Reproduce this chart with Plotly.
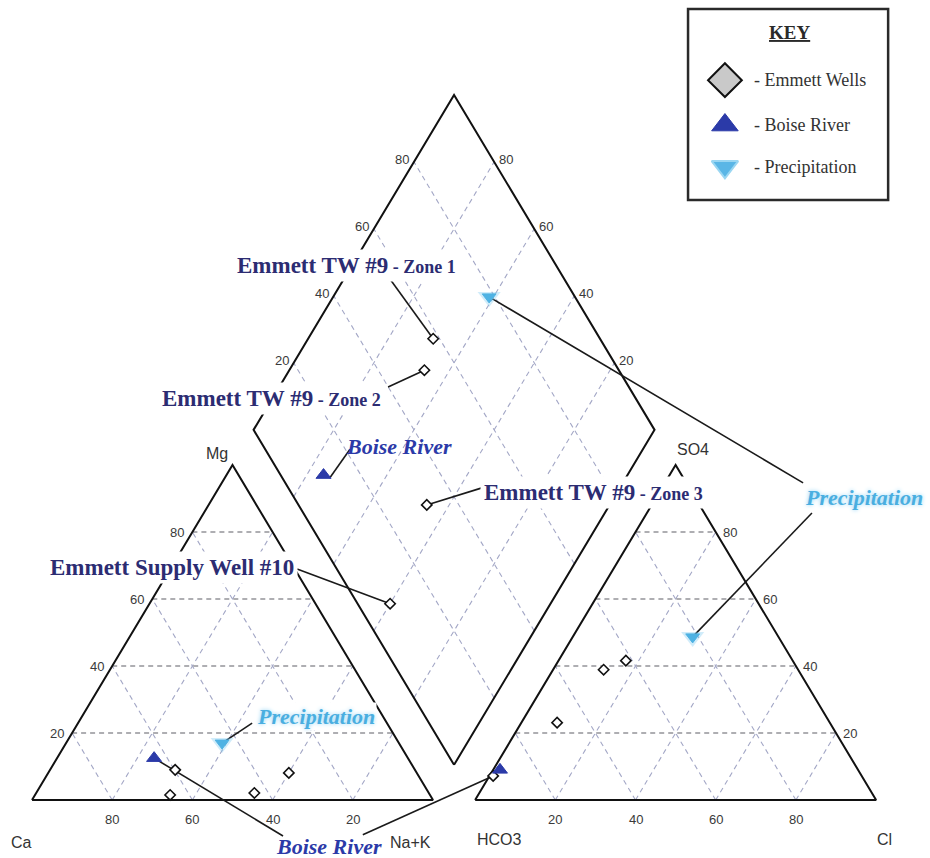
import math
import plotly.graph_objects as go

# ---- water chemistry (percent of meq/L) ----
well_names = ["Emmett TW #9 - Zone 1", "Emmett TW #9 - Zone 2",
              "Emmett TW #9 - Zone 3", "Emmett Supply Well #10"]
well_ca = [59.8, 64.8, 43.5, 31.9]
well_mg = [9.0, 1.5, 2.1, 8.1]
well_na = [31.2, 33.7, 54.4, 60.0]
well_hco3 = [41.6, 48.5, 68.0, 91.9]
well_so4 = [41.6, 38.9, 23.1, 7.2]
well_cl = [16.8, 12.6, 8.9, 0.9]

river_ca, river_mg, river_na = [63.3], [12.5], [24.2]
river_hco3, river_so4, river_cl = [89.3], [9.0], [1.7]

precip_ca, precip_mg, precip_na = [44.1], [17.0], [38.9]
precip_hco3, precip_so4, precip_cl = [21.4], [48.7], [29.9]

grid_ticks = [20, 40, 60, 80]

# ---- Piper geometry ----
GAP = 10.5
R3 = math.sqrt(3) / 2
OFF = 100 + GAP                       # left corner of the anion triangle
BX, BY = 100 + GAP / 2, GAP * R3      # bottom vertex of the diamond


def cation_xy(mg, na):
    return [n + m / 2 for m, n in zip(mg, na)], [m * R3 for m in mg]


def anion_xy(so4, cl):
    return [OFF + c + s / 2 for s, c in zip(so4, cl)], [s * R3 for s in so4]


def diamond_xy(ca, mg, so4, cl):
    xs, ys = [], []
    for a, m, s, c in zip(ca, mg, so4, cl):
        al, be = (a + m) / 100, (s + c) / 100
        xs.append(BX - 50 * al + 50 * be)
        ys.append(BY + 100 * R3 * (al + be))
    return xs, ys


fig = go.Figure()

DIAG = "#a3a7c6"
HORZ = "#5e5e66"


def seg(p, q, color, width=1.2, dash=None):
    fig.add_trace(go.Scatter(x=[p[0], q[0]], y=[p[1], q[1]], mode="lines",
                             line=dict(color=color, width=width, dash=dash),
                             hoverinfo="skip", showlegend=False))


# grid: cation triangle
for k in grid_ticks:
    seg((k / 2, k * R3), (100 - k / 2, k * R3), HORZ, 1.1, "5px,4px")
    seg((k, 0), (k + (100 - k) / 2, (100 - k) * R3), DIAG, 1.1, "5px,4px")
    seg((100 - k, 0), ((100 - k) / 2, (100 - k) * R3), DIAG, 1.1, "5px,4px")
# grid: anion triangle
for k in grid_ticks:
    seg((OFF + k / 2, k * R3), (OFF + 100 - k / 2, k * R3), HORZ, 1.1, "5px,4px")
    seg((OFF + k, 0), (OFF + k + (100 - k) / 2, (100 - k) * R3), DIAG, 1.1, "5px,4px")
    seg((OFF + 100 - k, 0), (OFF + (100 - k) / 2, (100 - k) * R3), DIAG, 1.1, "5px,4px")
# grid: diamond
for k in grid_ticks:
    f = k / 100
    p = (BX - 50 * f, BY + 100 * R3 * f)
    seg(p, (p[0] + 50, p[1] + 100 * R3), DIAG, 1.1, "5px,4px")
    p = (BX + 50 * f, BY + 100 * R3 * f)
    seg(p, (p[0] - 50, p[1] + 100 * R3), DIAG, 1.1, "5px,4px")

# outlines
OUT = dict(color="#111111", width=2)
for xs, ys in [
    ([0, 100, 50, 0], [0, 0, 100 * R3, 0]),
    ([OFF, OFF + 100, OFF + 50, OFF], [0, 0, 100 * R3, 0]),
    ([BX, BX - 50, BX, BX + 50, BX],
     [BY, BY + 100 * R3, BY + 200 * R3, BY + 100 * R3, BY]),
]:
    fig.add_trace(go.Scatter(x=xs, y=ys, mode="lines", line=OUT,
                             hoverinfo="skip", showlegend=False))

# sample positions
wc = cation_xy(well_mg, well_na)
wa = anion_xy(well_so4, well_cl)
wd = diamond_xy(well_ca, well_mg, well_so4, well_cl)
rc = cation_xy(river_mg, river_na)
ra = anion_xy(river_so4, river_cl)
rd = diamond_xy(river_ca, river_mg, river_so4, river_cl)
pc = cation_xy(precip_mg, precip_na)
pa = anion_xy(precip_so4, precip_cl)
pd = diamond_xy(precip_ca, precip_mg, precip_so4, precip_cl)

# leader lines from labels to samples
LEAD = "#1a1a1a"
leaders = [
    ((88.0, 136.5), (wd[0][0], wd[1][0])),
    ((88.8, 106.8), (wd[0][1], wd[1][1])),
    ((112.2, 80.7), (wd[0][2], wd[1][2])),
    ((66.1, 59.7), (wd[0][3], wd[1][3])),
    ((79.3, 90.7), (rd[0][0] + 1.5, rd[1][0] - 0.8)),
    ((62.6, -9.3), (rc[0][0], rc[1][0])),
    ((82.5, -9.0), (wa[0][3], wa[1][3])),
    ((54.9, 19.9), (pc[0][0], pc[1][0])),
    ((192.3, 82.0), (pd[0][0], pd[1][0])),
    ((194.5, 74.2), (pa[0][0], pa[1][0])),
]
for p, q in leaders:
    seg(p, q, LEAD, 1.6)

WELL_MK = dict(symbol="diamond", size=8, color="white",
               line=dict(color="#111111", width=1.6))
RIVER_MK = dict(symbol="triangle-up", size=13, color="#2b3aa8",
                line=dict(color="#2b3aa8", width=1))
PRECIP_GLOW = dict(symbol="triangle-down", size=20, color="rgba(120,200,240,0.35)",
                   line=dict(width=0))
PRECIP_MK = dict(symbol="triangle-down", size=12, color="#4fb2e3",
                 line=dict(color="#4fb2e3", width=1))

for pts in (wc, wa, wd):
    fig.add_trace(go.Scatter(x=pts[0], y=pts[1], mode="markers", marker=WELL_MK,
                             text=well_names, showlegend=False))
for pts in (rc, ra, rd):
    fig.add_trace(go.Scatter(x=pts[0], y=pts[1], mode="markers", marker=RIVER_MK,
                             name="Boise River", showlegend=False))
for pts in (pc, pa, pd):
    fig.add_trace(go.Scatter(x=pts[0], y=pts[1], mode="markers", marker=PRECIP_GLOW,
                             hoverinfo="skip", showlegend=False))
    fig.add_trace(go.Scatter(x=pts[0], y=pts[1], mode="markers", marker=PRECIP_MK,
                             name="Precipitation", showlegend=False))

# ---- legend box ----
fig.add_shape(type="rect", x0=163.6, x1=213.5, y0=155.1, y1=204.5,
              line=dict(color="#2a2a2a", width=2.5), fillcolor="white", layer="below")
key_y = [186.1, 174.5, 163.7]
key_text = ["- Emmett Wells", "- Boise River", "- Precipitation"]
key_mk = [
    dict(symbol="diamond", size=26, color="#c9c9c9", line=dict(color="#111111", width=2)),
    dict(symbol="triangle-up", size=23, color="#2b3aa8", line=dict(color="#2b3aa8", width=1)),
    dict(symbol="triangle-down", size=23, color="#5ab6e6", line=dict(color="#9ad6f2", width=2)),
]
for yy, mk in zip(key_y, key_mk):
    fig.add_trace(go.Scatter(x=[172.8], y=[yy], mode="markers", marker=mk,
                             hoverinfo="skip", showlegend=False))

ann = []
ann.append(dict(x=189.0, y=198.3, text="<b><u>KEY</u></b>", showarrow=False,
                font=dict(family="Liberation Serif", size=19, color="#2a2a2a")))
for yy, t in zip(key_y, key_text):
    ann.append(dict(x=179.6, y=yy, text=t, xanchor="left", showarrow=False,
                    font=dict(family="Liberation Serif", size=18, color="#333333")))

# ---- tick labels ----
TICK = dict(family="Liberation Sans", size=13, color="#3a3a3a")
for k in grid_ticks:
    # cation triangle: Mg on left edge, Ca along base
    ann.append(dict(x=k / 2, y=k * R3, text=str(k), xanchor="right", xshift=-6,
                    showarrow=False, font=TICK))
    ann.append(dict(x=k, y=0, text=str(100 - k), yanchor="top", yshift=-10,
                    showarrow=False, font=TICK))
    # anion triangle: Cl along base, SO4 on right edge
    ann.append(dict(x=OFF + k, y=0, text=str(k), yanchor="top", yshift=-10,
                    showarrow=False, font=TICK))
    ann.append(dict(x=OFF + 100 - k / 2, y=k * R3, text=str(k), xanchor="left",
                    xshift=5, showarrow=False, font=TICK))
    # diamond upper edges
    f = k / 100
    ann.append(dict(x=BX - 50 + 50 * f, y=BY + 100 * R3 * (1 + f), text=str(k),
                    xanchor="right", xshift=-3, yshift=2, showarrow=False, font=TICK))
    ann.append(dict(x=BX + 50 * f, y=BY + 100 * R3 * (2 - f), text=str(100 - k),
                    xanchor="left", xshift=3, yshift=2, showarrow=False, font=TICK))

AX = dict(family="Liberation Sans", size=16, color="#333333")
for x, y, t in [(46.1, 89.7, "Mg"), (-2.5, -10.9, "Ca"), (94.3, -10.9, "Na+K"),
                (116.7, -10.3, "HCO3"), (212.7, -10.3, "Cl"), (164.8, 90.5, "SO4")]:
    ann.append(dict(x=x, y=y, text=t, showarrow=False, font=AX))

# ---- sample labels ----
NAVY = dict(family="Liberation Serif", size=23, color="#2c2c72")
for x, y, name in [(50.1, 138.3, "Emmett TW #9|Zone 1"), (31.4, 103.9, "Emmett TW #9|Zone 2"),
                   (111.7, 79.6, "Emmett TW #9|Zone 3")]:
    head, tail = name.split("|")
    ann.append(dict(x=x, y=y, xanchor="left",
                    text=f"<b>{head}<span style='font-size:18px'> - {tail}</span></b>",
                    showarrow=False, font=NAVY, bgcolor="white", borderpad=3))
ann.append(dict(x=3.5, y=60.2, xanchor="left", text="<b>Emmett Supply Well #10</b>",
                showarrow=False, font=NAVY, bgcolor="white", borderpad=3))

RIVER_F = dict(family="Liberation Serif", size=22, color="#2b3aa8")
for x, y in [(91.5, 91.5), (74.1, -11.9)]:
    ann.append(dict(x=x, y=y, text="<b><i>Boise River</i></b>", showarrow=False,
                    font=RIVER_F))
PRECIP_F = dict(family="Liberation Serif", size=22, color="#4aaee0",
                shadow="0px 0px 4px #8fd2f4")
for x, y in [(70.8, 21.5), (207.5, 78.1)]:
    ann.append(dict(x=x, y=y, text="<b><i>Precipitation</i></b>", showarrow=False,
                    font=PRECIP_F, bgcolor="white"))

fig.update_layout(
    width=930, height=858, autosize=False,
    margin=dict(l=0, r=0, t=0, b=0),
    paper_bgcolor="white", plot_bgcolor="white",
    xaxis=dict(range=[-7.98, 223.94], visible=False, fixedrange=True),
    yaxis=dict(range=[-14.99, 206.83], visible=False, fixedrange=True),
    annotations=ann, showlegend=False,
)

fig.write_html("out.html")
